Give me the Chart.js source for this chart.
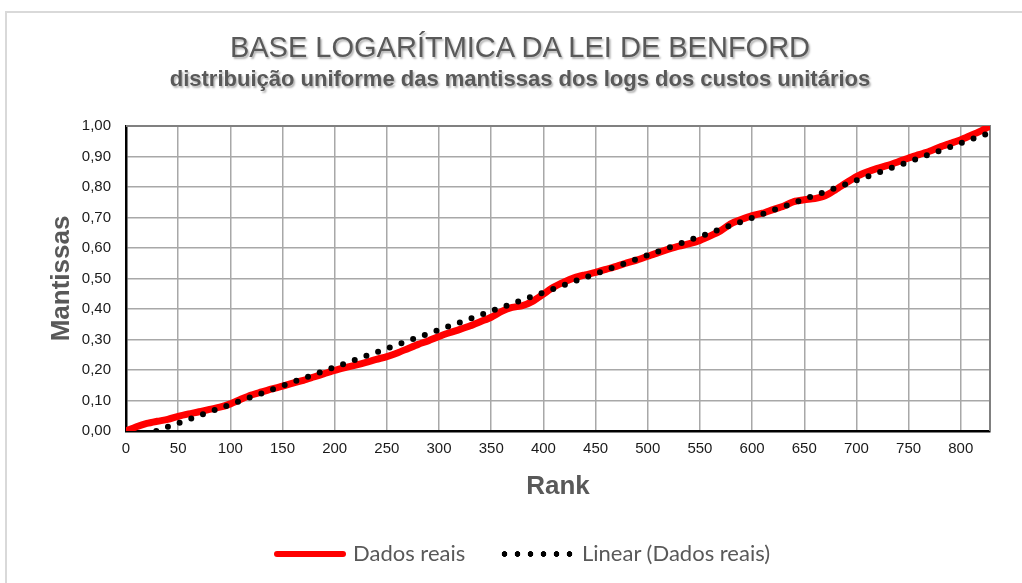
<!DOCTYPE html>
<html lang="pt">
<head>
<meta charset="utf-8">
<title>Base logarítmica da Lei de Benford</title>
<script src="https://cdn.jsdelivr.net/npm/chart.js@4.4.1/dist/chart.umd.min.js"></script>
<style>
    body {
        margin: 0;
        width: 1022px;
        height: 583px;
        overflow: hidden;
        background: #fff;
        position: relative;
        font-family: "Liberation Sans", Arial, sans-serif;
    }
    #moldura {
        position: absolute;
        left: 5px;
        top: 11px;
        width: 1100px;
        height: 700px;
        border-left: 2px solid #d9d9d9;
        border-top: 2px solid #d9d9d9;
    }
    #grafica {
        position: absolute;
        left: 0;
        top: 0;
    }
    .titulo, .subtitulo {
        position: absolute;
        left: 0;
        width: 1040px;
        text-align: center;
        color: #595959;
        white-space: nowrap;
        text-shadow: 1.5px 1.5px 2px rgba(0, 0, 0, 0.3);
    }
    .titulo {
        top: 33px;
        font-size: 29px;
        line-height: 29px;
    }
    .subtitulo {
        top: 68px;
        font-size: 22px;
        line-height: 22px;
        font-weight: bold;
    }
    .leyenda-texto {
        position: absolute;
        top: 540px;
        font-family: Lato, "Liberation Sans", sans-serif;
        font-size: 22px;
        line-height: 25px;
        color: #595959;
        white-space: nowrap;
    }
    .marca-roja {
        position: absolute;
        left: 274px;
        top: 551px;
        width: 72px;
        height: 6px;
        border-radius: 3px;
        background: #ff0000;
    }
    .marca-puntos {
        position: absolute;
        left: 498px;
        top: 551px;
        width: 78px;
        height: 6px;
        background: radial-gradient(circle, #000 2.6px, transparent 3.1px) repeat-x;
        background-size: 13px 6px;
    }
</style>
</head>
<body>
<div id="moldura"></div>
<canvas id="grafica" width="1022" height="583"></canvas>
<div class="titulo">BASE LOGARÍTMICA DA LEI DE BENFORD</div>
<div class="subtitulo">distribuição uniforme das mantissas dos logs dos custos unitários</div>
<div class="marca-roja"></div>
<div class="leyenda-texto" style="left:353px">Dados reais</div>
<div class="marca-puntos"></div>
<div class="leyenda-texto" style="left:582px">Linear (Dados reais)</div>

<script>
// rank de cada ponto lido
const rangos = [
    0, 10, 20, 30, 40, 50, 60, 70, 80, 90,
    100, 110, 120, 130, 140, 150, 160, 170, 180, 190,
    200, 210, 220, 230, 240, 250, 260, 270, 280, 290,
    300, 310, 320, 330, 340, 350, 360, 370, 380, 390,
    400, 410, 420, 430, 440, 450, 460, 470, 480, 490,
    500, 510, 520, 530, 540, 550, 560, 570, 580, 590,
    600, 610, 620, 630, 640, 650, 660, 670, 680, 690,
    700, 710, 720, 730, 740, 750, 760, 770, 780, 790,
    800, 810, 820, 828
];

// mantissas (Dados reais)
const mantissas = [
    0.000, 0.014, 0.025, 0.032, 0.038, 0.048, 0.056, 0.063, 0.071, 0.078,
    0.089, 0.104, 0.118, 0.128, 0.138, 0.147, 0.157, 0.166, 0.177, 0.188,
    0.199, 0.208, 0.216, 0.225, 0.235, 0.244, 0.256, 0.270, 0.284, 0.296,
    0.310, 0.322, 0.333, 0.345, 0.359, 0.373, 0.392, 0.405, 0.411, 0.426,
    0.449, 0.472, 0.489, 0.503, 0.512, 0.520, 0.530, 0.540, 0.551, 0.561,
    0.573, 0.585, 0.596, 0.606, 0.614, 0.625, 0.640, 0.657, 0.680, 0.694,
    0.706, 0.714, 0.726, 0.737, 0.752, 0.758, 0.762, 0.771, 0.791, 0.813,
    0.834, 0.849, 0.861, 0.871, 0.883, 0.895, 0.906, 0.917, 0.931, 0.943,
    0.955, 0.970, 0.985, 1.000
];

// linha de tendencia linear (extremos)
const tendenciaRangos = [29, 828];
const tendenciaValores = [0, 0.978];

// ticks
const ticksX = [0, 50, 100, 150, 200, 250, 300, 350, 400, 450, 500, 550, 600, 650, 700, 750, 800];
const ticksY = [0, 0.1, 0.2, 0.3, 0.4, 0.5, 0.6, 0.7, 0.8, 0.9, 1.0];

// borda superior e direita da area do grafico
const bordaArea = {
    id: 'bordaArea',
    beforeDatasetsDraw(chart) {
        const {ctx, chartArea} = chart;
        ctx.save();
        ctx.strokeStyle = '#808080';
        ctx.lineWidth = 2;
        ctx.beginPath();
        ctx.moveTo(chartArea.left, chartArea.top);
        ctx.lineTo(chartArea.right, chartArea.top);
        ctx.lineTo(chartArea.right, chartArea.bottom);
        ctx.stroke();
        ctx.restore();
    }
};

const ctx = document.getElementById('grafica').getContext('2d');

new Chart(ctx, {
    type: 'line',
    data: {
        datasets: [
            {
                label: 'Linear (Dados reais)',
                data: tendenciaRangos.map((r, i) => ({x: r, y: tendenciaValores[i]})),
                borderColor: '#000000',
                borderWidth: 6,
                borderDash: [0, 12.4],
                borderCapStyle: 'round',
                pointRadius: 0,
                fill: false,
                order: 0
            },
            {
                label: 'Dados reais',
                data: rangos.map((r, i) => ({x: r, y: mantissas[i]})),
                borderColor: '#ff0000',
                borderWidth: 7,
                borderCapStyle: 'round',
                borderJoinStyle: 'round',
                pointRadius: 0,
                tension: 0.25,
                fill: false,
                order: 1
            }
        ]
    },
    options: {
        responsive: false,
        animation: false,
        devicePixelRatio: 1,
        layout: {
            padding: {top: 126, right: 32, bottom: 0, left: 0}
        },
        plugins: {
            legend: {display: false},
            tooltip: {enabled: false}
        },
        scales: {
            x: {
                type: 'linear',
                min: 0,
                max: 828,
                afterBuildTicks: scale => {
                    scale.ticks = ticksX.map(v => ({value: v}));
                },
                afterFit: scale => {
                    scale.height = 152;
                },
                ticks: {
                    padding: 9,
                    color: '#1a1a1a',
                    font: {family: 'Liberation Sans', size: 15},
                    maxRotation: 0
                },
                grid: {
                    color: '#a8a8a8',
                    lineWidth: 1.5,
                    drawTicks: false
                },
                border: {color: '#000000', width: 2.5},
                title: {
                    display: true,
                    text: 'Rank',
                    color: '#595959',
                    font: {family: 'Liberation Sans', size: 26, weight: 'bold'},
                    padding: {top: 0, bottom: 81}
                }
            },
            y: {
                min: 0,
                max: 1,
                afterBuildTicks: scale => {
                    scale.ticks = ticksY.map(v => ({value: v}));
                },
                afterFit: scale => {
                    scale.width = 126;
                },
                ticks: {
                    padding: 15,
                    color: '#1a1a1a',
                    font: {family: 'Liberation Sans', size: 15},
                    callback: value => value.toFixed(2).replace('.', ',')
                },
                grid: {
                    color: '#a8a8a8',
                    lineWidth: 1.5,
                    drawTicks: false
                },
                border: {color: '#000000', width: 2.5},
                title: {
                    display: true,
                    text: 'Mantissas',
                    color: '#595959',
                    font: {family: 'Liberation Sans', size: 26, weight: 'bold'},
                    padding: {top: 46, bottom: 0}
                }
            }
        }
    },
    plugins: [bordaArea]
});
</script>
</body>
</html>
